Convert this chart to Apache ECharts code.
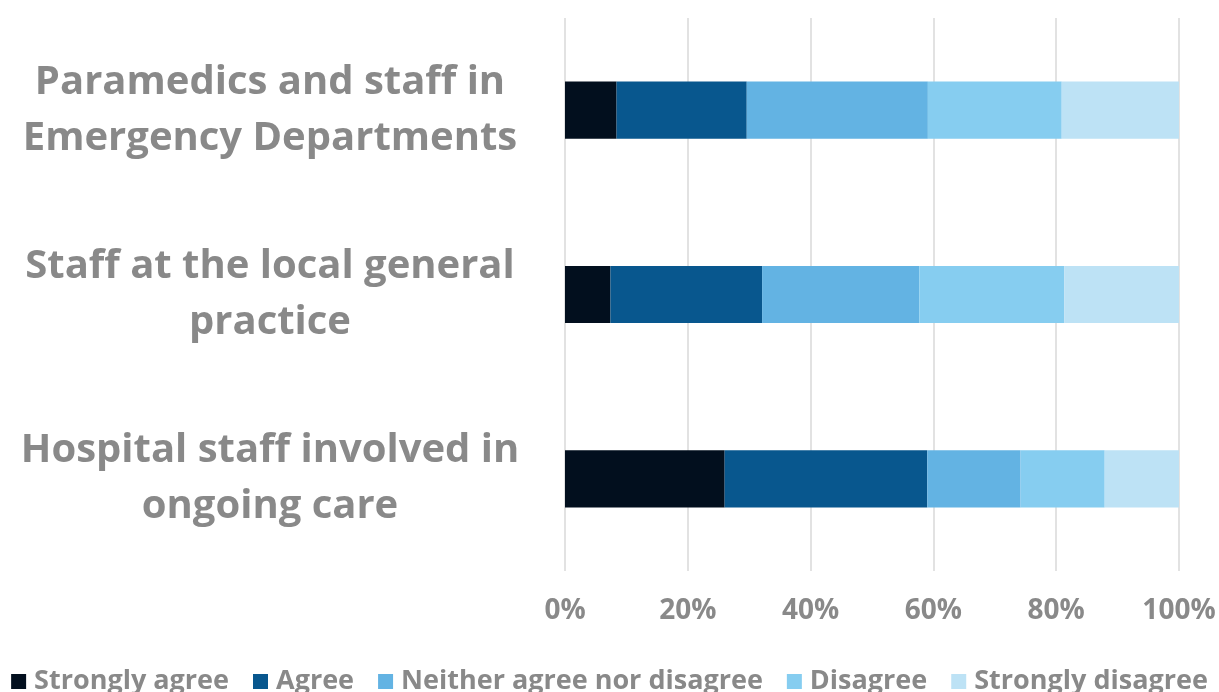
<!DOCTYPE html>
<html>
<head>
<meta charset="utf-8">
<script src="https://cdn.jsdelivr.net/npm/echarts@6/dist/echarts.min.js"></script>
<style>
html,body{margin:0;padding:0;background:#fff;}
#chart{width:1219px;height:692px;}
</style>
</head>
<body>
<div id="chart"></div>
<script>
const categories = [
  "Hospital staff involved in\nongoing care",
  "Staff at the local general\npractice",
  "Paramedics and staff in\nEmergency Departments"
];
const seriesNames = ["Strongly agree", "Agree", "Neither agree nor disagree", "Disagree", "Strongly disagree"];
const stronglyAgree = [26.0, 7.4, 8.4];
const agree = [33.0, 24.7, 21.2];
const neither = [15.2, 25.6, 29.5];
const disagree = [13.7, 23.6, 21.8];
const stronglyDisagree = [12.1, 18.7, 19.1];
const colors = ["#020f1e", "#08578e", "#63b3e3", "#86cdf0", "#bde2f5"];
const xTicks = [0, 20, 40, 60, 80, 100];

const values = [stronglyAgree, agree, neither, disagree, stronglyDisagree];
const grey = "#898989";
const font = "'Open Sans', 'Noto Sans', sans-serif";

const chart = echarts.init(document.getElementById('chart'));
chart.setOption({
  animation: false,
  textStyle: { fontFamily: font },
  grid: { left: 565, right: 40, top: 18, bottom: 121, containLabel: false },
  legend: {
    bottom: -8,
    left: 'center',
    itemWidth: 15,
    itemHeight: 15,
    itemGap: 24,
    icon: 'rect',
    textStyle: { color: grey, fontSize: 27, fontWeight: 'bold', fontFamily: font, padding: [0, 0, 0, 3] },
    data: seriesNames
  },
  xAxis: {
    type: 'value',
    min: 0,
    max: 100,
    interval: 20,
    axisLine: { show: false },
    axisTick: { show: false },
    splitLine: { lineStyle: { color: '#d9d9d9', width: 1.5 } },
    axisLabel: {
      color: grey, fontSize: 28, fontWeight: 'bold', margin: 26,
      formatter: v => xTicks.includes(v) ? v + '%' : ''
    }
  },
  yAxis: {
    type: 'category',
    data: categories,
    axisLine: { show: false },
    axisTick: { show: false },
    axisLabel: {
      color: grey, fontSize: 40, fontWeight: 'bold', align: 'center',
      margin: 295, lineHeight: 56
    }
  },
  series: seriesNames.map((n, i) => ({
    name: n,
    type: 'bar',
    stack: 'total',
    barWidth: '31%',
    itemStyle: { color: colors[i] },
    data: values[i]
  }))
});
</script>
</body>
</html>
